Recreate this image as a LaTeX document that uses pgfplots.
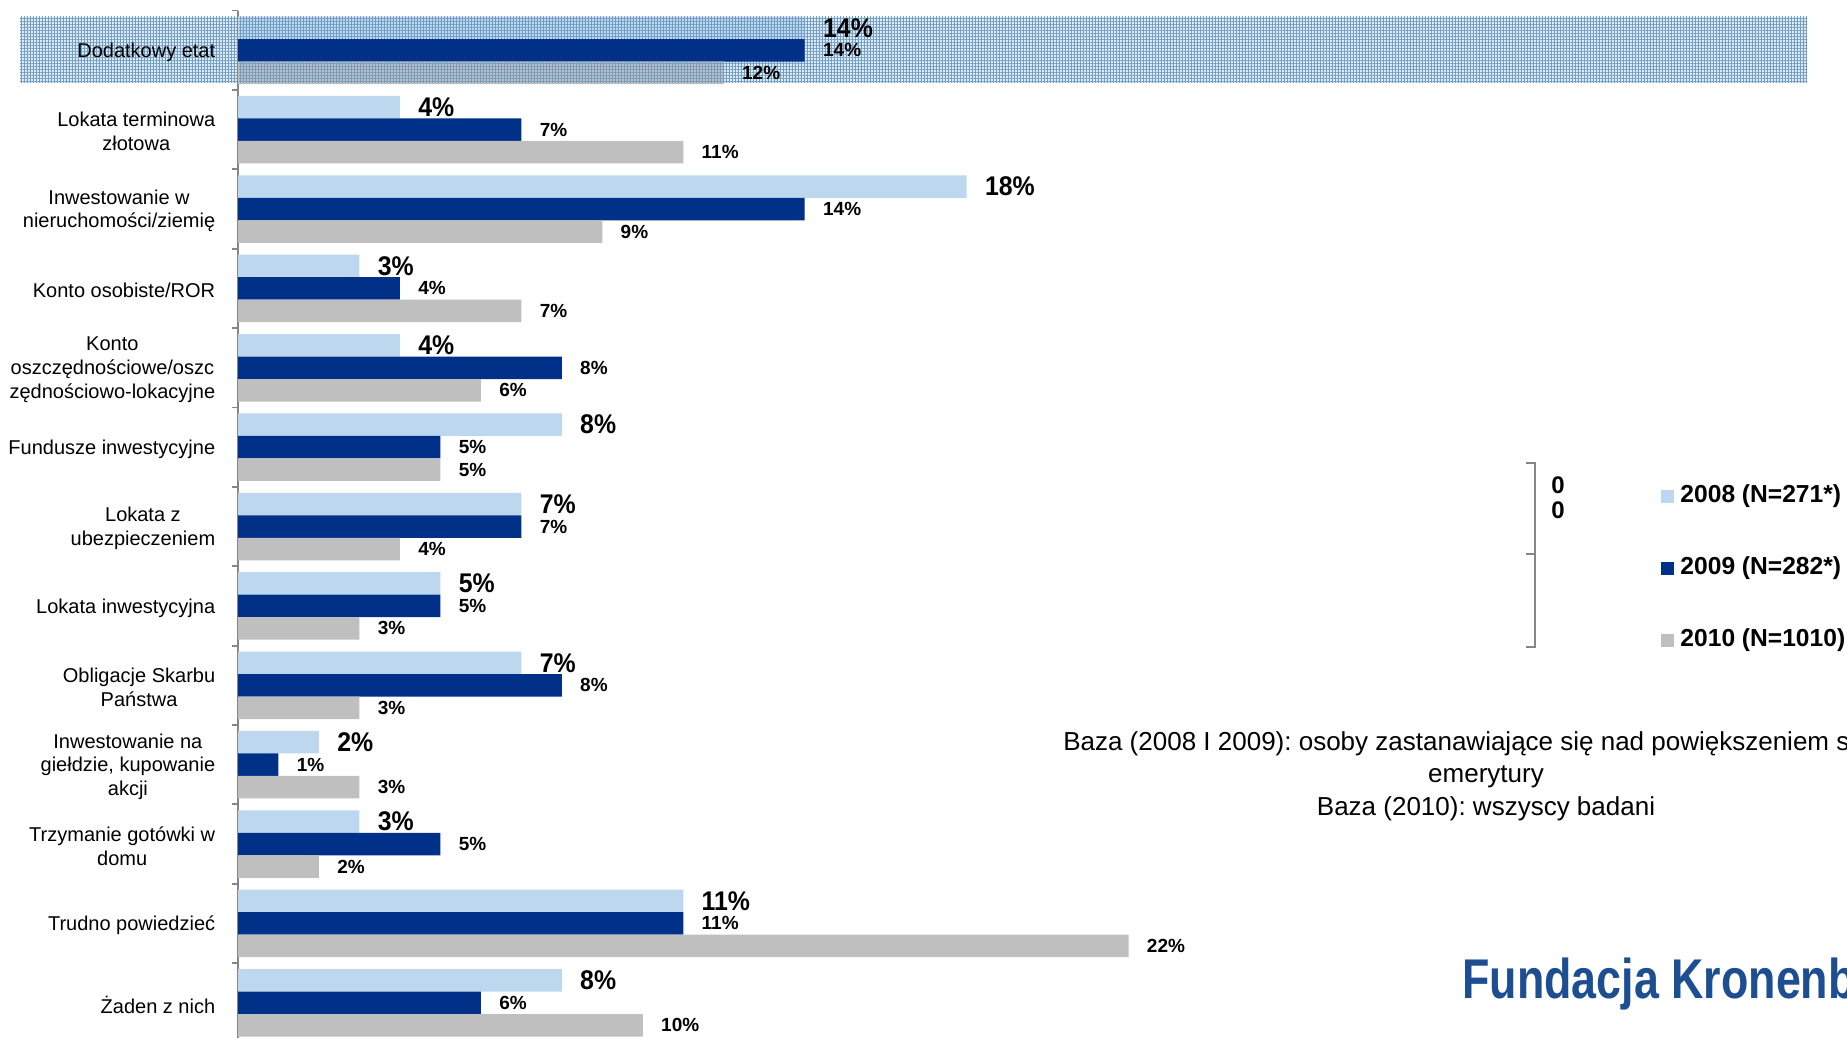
\documentclass[border=0pt]{standalone}
\usepackage{fontspec}
\setmainfont{Liberation Sans}
\usepackage{graphicx}
\usepackage{pgfplots}
\pgfplotsset{compat=1.18}
\usetikzlibrary{patterns.meta}
\frenchspacing
\definecolor{c08}{RGB}{189,215,238}
\definecolor{c09}{RGB}{0,48,135}
\definecolor{c10}{RGB}{191,191,191}
\definecolor{bandbg}{RGB}{222,233,242}
\definecolor{bandln}{RGB}{112,158,195}
\definecolor{axgray}{RGB}{134,134,134}
\definecolor{logoblue}{RGB}{28,78,145}
\newcommand\bandpattern[1]{%
 \pattern[pattern={Lines[angle=0,distance=1.5pt,line width=0.45pt]},pattern color=bandln] #1;
 \pattern[pattern={Lines[angle=90,distance=1.5pt,line width=0.45pt]},pattern color=bandln] #1;}
\begin{document}
\begin{tikzpicture}
\path[use as bounding box] (0,0) rectangle (923.5pt,-519pt);
\clip (0,0) rectangle (923.5pt,-519pt);
% highlighted band behind the first category
\fill[bandbg] (10pt,-8.5pt) rectangle (903.5pt,-41.5pt);
\bandpattern{(10pt,-8.5pt) rectangle (903.5pt,-41.5pt)}
\begin{axis}[
  at={(119pt,-5.28pt)}, anchor=north west,
  x=20.24pt, y=39.69pt,
  xmin=0, xmax=39, ymin=-0.5, ymax=12.5,
  y dir=reverse,
  xbar, bar width=0.2834,
  axis y line*=left, hide x axis,
  y axis line style={draw=axgray, line width=0.9pt},
  ytick={0,...,12},
  yticklabels={
    Dodatkowy etat,
    Lokata terminowa\\złotowa,
    Inwestowanie w\\nieruchomości/ziemię,
    Konto osobiste/ROR,
    Konto\\oszczędnościowe/oszc\\zędnościowo-lokacyjne,
    Fundusze inwestycyjne,
    Lokata z\\ubezpieczeniem,
    Lokata inwestycyjna,
    Obligacje Skarbu\\Państwa,
    {Inwestowanie na\\giełdzie, kupowanie\\akcji},
    Trzymanie gotówki w\\domu,
    Trudno powiedzieć,
    Żaden z nich},
  major tick length=0pt,
  minor ytick={-0.5,0.5,...,12.5},
  minor tick length=3pt, tick align=outside,
  ytick pos=left,
  minor tick style={draw=axgray, line width=0.9pt},
  yticklabel style={align=center, font=\fontsize{10}{11.8}\selectfont, inner sep=0pt, xshift=-11.2pt, yshift=-1pt},
  point meta=x,
  /pgf/number format/assume math mode=true,
  nodes near coords={\pgfmathprintnumber{\pgfplotspointmeta}\%},
  nodes near coords style={anchor=west, inner sep=0pt, xshift=9pt, font=\bfseries\fontsize{9.5}{10}\selectfont},
  legend image code/.code={\fill[#1] (0pt,-3.25pt) rectangle (6.5pt,3.25pt); \path (9.5pt,0pt);},
  legend style={at={(0.9014,0.541)}, anchor=north west, draw=none, fill=none, inner sep=0pt,
    row sep=24.3pt, font=\bfseries\fontsize{12.3}{13}\selectfont,
    nodes={inner sep=0pt, text height=9pt, text depth=2.7pt}},
  legend cell align=left,
  clip=false,
]
\addplot[fill=c08, draw=none, bar shift=-0.2834,
  nodes near coords={\scalebox{0.92}[1]{\pgfmathprintnumber{\pgfplotspointmeta}\%}},
  nodes near coords style={font=\bfseries\fontsize{13.5}{14}\selectfont}]
  coordinates {(14,0) (4,1) (18,2) (3,3) (4,4) (8,5) (7,6) (5,7) (7,8) (2,9) (3,10) (11,11) (8,12)};
\addlegendentry{2008 (N=271*)}
\addplot[fill=c09, draw=none, bar shift=0]
  coordinates {(14,0) (7,1) (14,2) (4,3) (8,4) (5,5) (7,6) (5,7) (8,8) (1,9) (5,10) (11,11) (6,12)};
\addlegendentry{2009 (N=282*)}
\addplot[fill=c10, draw=none, bar shift=0.2834]
  coordinates {(12,0) (11,1) (9,2) (7,3) (6,4) (5,5) (4,6) (3,7) (3,8) (3,9) (2,10) (22,11) (10,12)};
\addlegendentry{2010 (N=1010)}
\end{axis}
% pattern over the light blue and grey bars of the highlighted row
\bandpattern{(119.5pt,-8.5pt) rectangle (402.5pt,-19.5pt)}
\bandpattern{(119.5pt,-30.75pt) rectangle (362pt,-41.5pt)}
% bracket beside the legend
\draw[axgray, line width=1pt] (763pt,-231.5pt) -- (767.5pt,-231.5pt) -- (767.5pt,-323.5pt) -- (763pt,-323.5pt);
\draw[axgray, line width=1pt] (763pt,-277pt) -- (767.5pt,-277pt);
\node[font=\bfseries\fontsize{12}{12}\selectfont, inner sep=0pt] at (779pt,-242.5pt) {0};
\node[font=\bfseries\fontsize{12}{12}\selectfont, inner sep=0pt] at (779pt,-255pt) {0};
% base note
\node[align=center, font=\fontsize{13}{16.2}\selectfont, inner sep=0pt] at (743pt,-388pt)
  {Baza (2008 I 2009): osoby zastanawiające się nad powiększeniem swojej\\emerytury\\Baza (2010): wszyscy badani};
% logo text
\node[anchor=base west, inner sep=0pt, text=logoblue] at (731pt,-499pt)
  {\scalebox{0.8}[1]{\fontsize{28}{28}\selectfont\bfseries Fundacja Kronenberga}};
\end{tikzpicture}
\end{document}
